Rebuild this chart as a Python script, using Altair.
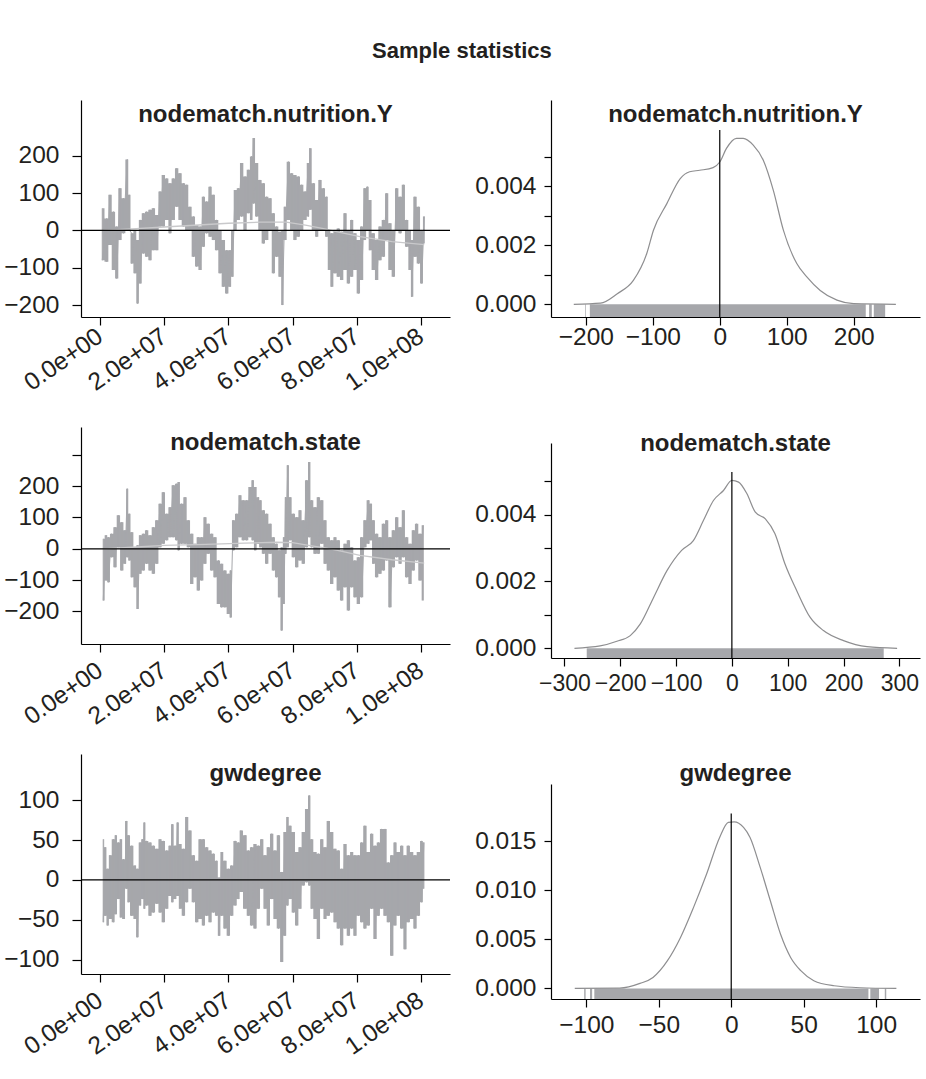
import altair as alt
import pandas as pd

# ---------------- data ----------------
# Trace panels: x in millions of iterations, hi / lo = envelope of the sampled statistic
p1_x = [0.7, 2.1, 3.1, 4.2, 5.2, 6.2, 7.3, 8.5, 9.1, 9.9, 10.9, 11.7, 12.5, 13.5, 14.5, 15.6, 16.6, 17.7, 18.7, 19.7,
        20.8, 21.8, 22.8, 23.9, 24.9, 26.0, 27.0, 28.0, 29.1, 30.1, 31.2, 32.2, 33.2, 34.3, 35.3, 36.3, 37.4, 38.4, 39.5, 40.5,
        41.2, 42.1, 43.1, 44.1, 45.2, 46.2, 47.2, 47.8, 48.8, 49.8,
        50.9, 51.9, 53.0, 54.0, 55.0, 56.1, 56.8, 57.6, 58.7, 59.7, 60.7, 61.8, 62.8, 63.9, 64.9, 65.4, 66.5, 67.5, 68.5, 69.6,
        70.6, 71.3, 72.2, 73.2, 74.2, 75.3, 76.3, 77.4, 78.4, 79.4, 80.5, 81.5, 82.5, 83.3, 84.1, 85.1, 86.2, 87.2, 88.3, 89.3,
        90.3, 91.4, 92.4, 93.5, 94.5, 95.5, 96.6, 97.1, 98.1, 99.2, 100.2, 101.0]
p1_hi = [59, 32, 95, 50, 10, 113, 86, 190, 95, -8, 1, -26, 28, 46, 50, 55, 59, 41, 104, 148,
         139, 126, 139, 166, 153, 126, 122, 63, 37, 14, 10, 90, 77, 117, 95, 28, 1, -26, -53, -53,
         1, 108, 113, 180, 144, 162, 198, 247, 180, 135,
         126, 90, 86, 46, 10, -4, 1, 63, 184, 153, 148, 144, 122, 104, 180, 220, 126, 81, 135, 113,
         90, 1, -8, 1, 5, -4, 46, 1, 28, -8, -26, 10, 113, 117, 81, -8, -26, 10, 28, 99,
         19, 1, 113, 90, 122, 28, 1, -26, 90, 63, 1, 37]
p1_lo = [-80, -84, -39, -106, -129, -26, -8, 1, 1, -89, -115, -196, -142, -62, -71, -80, -53, -53, 10, 10,
         28, -8, 28, 63, 28, 10, 1, 1, -71, -97, -106, -44, -8, -17, -26, -53, -115, -151, -169, -151,
         -124, 1, 28, 37, 1, 46, 28, 72, 37, 1,
         -35, -26, 1, -115, -71, -124, -200, -26, 28, 1, -26, -17, 1, 28, 37, 55, 1, -17, 1, 1,
         -17, -106, -151, -115, -124, -133, -106, -142, -124, -106, -169, -133, -26, 1, -53, -106, -133, -80, -71, -26,
         -106, -124, 1, -8, 1, -44, -106, -178, -71, -89, -142, -35]
p1_smooth_x = [1, 10, 20, 28, 40, 50, 58, 64, 70, 74, 81, 91, 101]
p1_smooth_y = [0, 4, 9, 13, 19, 22, 22, 14, 4, -4, -17, -30, -38]

p3_x = [1.0, 1.9, 2.6, 3.6, 4.7, 5.7, 6.8, 7.8, 8.5, 9.1, 9.9, 10.9, 11.7, 12.5, 13.5, 14.5, 15.6, 16.6, 17.7, 18.7,
        19.7, 20.8, 21.8, 22.8, 23.9, 24.4, 25.4, 26.5, 27.5, 28.6, 29.6, 30.6, 31.7, 32.7, 33.7, 34.8, 35.8, 36.9, 37.9, 38.9,
        40.0, 40.7, 41.5, 42.6, 43.6, 44.6, 45.7, 46.7, 47.6, 48.3, 49.3,
        49.9, 50.9, 51.9, 53.0, 54.0, 55.0, 55.8, 56.6, 57.3, 57.8, 58.5, 59.2, 60.2, 61.3, 62.3, 63.3, 64.4, 65.2, 65.9, 67.0,
        68.0, 69.1, 70.1, 71.1, 72.2, 73.2, 74.2, 75.3, 76.3, 77.4, 78.4, 79.4, 80.5, 81.5, 82.5, 83.6, 84.4, 85.1, 86.2, 87.2,
        88.3, 89.3, 90.3, 91.4, 92.4, 93.5, 94.5, 95.5, 96.6, 97.6, 98.6, 99.7, 100.7]
p3_hi = [32, 43, 37, 48, 69, 107, 85, 59, 192, 112, 53, 5, 11, 43, 48, 59, 43, 69, 91, 144,
         181, 112, 133, 203, 208, 213, 144, 165, 91, 48, 16, 37, 37, 101, 80, 48, 37, -37, -48, -69,
         -80, -69, 91, 112, 171, 155, 155, 197, 219, 197, 165,
         155, 123, 112, 80, 37, 16, -5, 5, 37, 165, 267, 165, 112, 101, 123, 91, 219, 277, 155, 133,
         165, 155, 91, 37, 27, 37, 27, -5, 16, 27, 5, -37, -27, 37, 91, 155, 144, 91, 48, 37,
         80, 91, 37, 59, 101, 69, 123, 37, 16, 59, 80, 48, 75]
p3_lo = [-165, -101, -107, -27, -59, 5, -69, -48, -27, -37, -91, -123, -192, -80, -69, -48, -69, -80, -48, 5,
         16, 27, 37, 37, 27, -5, 16, 16, 5, -112, -91, -133, -101, -48, -16, -69, -91, -176, -187, -187,
         -208, -219, -5, 5, 37, 27, 27, 37, 27, -5, 16,
         5, -16, -48, -16, -69, -91, -155, -261, -176, -16, 5, 27, -27, -59, -37, -48, 5, 37, 5, -16,
         -16, 16, -48, -69, -112, -91, -133, -165, -123, -197, -123, -155, -176, -155, 5, 16, 27, -48, -91, -80,
         -69, -37, -187, -59, -27, -48, -27, -91, -112, -69, -37, -101, -165]
p3_smooth_x = [1, 10, 20, 33, 45, 55, 60, 65, 70, 74, 81, 91, 101]
p3_smooth_y = [0, 5, 11, 14, 18, 21, 20, 11, 3, -5, -21, -35, -46]

p5_x = [1.0, 1.6, 2.4, 3.1, 4.2, 4.9, 5.7, 6.5, 7.3, 8.3, 8.8, 9.9, 10.9, 11.6, 12.5, 13.2, 13.8, 14.5, 15.6, 16.6,
        17.7, 18.7, 19.7, 20.8, 21.8, 22.5, 23.4, 24.2, 24.9, 26.0, 27.0, 28.0, 29.1, 30.1, 31.2, 32.2, 33.2, 34.3, 35.3, 36.3,
        37.1, 37.9, 38.9, 40.0, 41.0, 42.1, 43.1, 43.9, 45.2, 46.2, 47.2, 48.3, 49.3,
        50.4, 51.4, 52.4, 53.5, 54.5, 55.6, 56.6, 57.6, 58.4, 59.2, 60.2, 61.3, 62.3, 63.3, 64.4, 65.2, 65.9, 67.0, 68.0, 69.1,
        70.1, 71.1, 72.2, 73.2, 74.2, 75.3, 76.3, 77.4, 78.4, 79.4, 80.5, 81.5, 82.5, 83.6, 84.6, 85.7, 86.7, 87.7, 88.8, 89.8,
        90.9, 91.9, 92.9, 94.0, 95.0, 96.0, 97.1, 98.1, 99.2, 100.2, 100.9]
p5_hi = [51, 41, 14, 31, 51, 56, 47, 51, 26, 74, 56, 43, 18, 14, 47, 51, 72, 49, 47, 43,
         39, 51, 49, 37, 43, 70, 43, 72, 45, 39, 79, 62, 31, 24, 51, 51, 41, 37, 33, 24,
         3, 35, 24, 14, 18, 49, 47, 62, 56, 37, 41, 45, 43,
         51, 31, 41, 58, 37, 56, 10, 60, 79, 68, 60, 35, 41, 60, 89, 106, 51, 35, 33, 51,
         41, 74, 60, 39, 37, 14, 45, 31, 35, 31, 31, 47, 68, 35, 58, 43, 47, 64, 64, 22,
         31, 47, 35, 43, 31, 43, 35, 31, 35, 49, 47]
p5_lo = [-53, -45, -57, -49, -53, -43, -24, -47, -49, -11, -28, -45, -49, -72, -32, -24, -36, -32, -45, -41,
         -30, -41, -53, -36, -20, -28, -24, -20, -36, -45, -28, -11, -28, -53, -49, -57, -45, -53, -41, -45,
         -70, -45, -61, -70, -45, -32, -24, -15, -36, -45, -57, -61, -36,
         -11, -36, -57, -24, -49, -61, -103, -70, -32, -24, -41, -57, -36, -7, -3, -7, -36, -49, -74, -36,
         -49, -45, -41, -53, -61, -82, -61, -70, -61, -70, -45, -53, -61, -57, -36, -74, -45, -36, -45, -53,
         -95, -57, -45, -61, -87, -53, -49, -61, -45, -28, -11]

# Density panels
p2_x = [-218, -178, -153, -129, -109, -99, -79, -59, -45, -30, -10, 0, 10, 25, 35, 50, 65, 80, 95, 115, 130, 150, 175, 200, 263]
p2_y = [0, 0.00004, 0.00036, 0.00081, 0.00172, 0.00251, 0.00341, 0.00426, 0.00449, 0.00454, 0.00463, 0.00482, 0.00528,
        0.00562, 0.00562, 0.00539, 0.00488, 0.00386, 0.00251, 0.00138, 0.00093, 0.00047, 0.00014, 0.00002, 0]
p2_rug_start = [-201, -194, 223, 230]
p2_rug_end = [-200, 218, 227, 247]
p2_ref = [0, 0.0059]

p4_x = [-282, -236, -206, -182, -164, -140, -116, -90, -69, -51, -33, -15, 0, 12, 27, 42, 60, 77, 95, 116, 140, 164, 200, 242, 296]
p4_y = [0, 0.00007, 0.00021, 0.00038, 0.00073, 0.00153, 0.00233, 0.00293, 0.00322, 0.00382, 0.00442, 0.00472, 0.00502,
        0.00497, 0.00462, 0.00407, 0.00387, 0.00343, 0.00253, 0.00173, 0.00093, 0.00053, 0.00023, 0.00005, 0]
p4_rug_start = [-260]
p4_rug_end = [272]
p4_ref = [0, 0.00527]

p6_x = [-108, -77, -63, -54, -44, -35, -26, -17, -8, -2, 2, 8.5, 13, 20, 27, 34, 41, 48, 57, 71, 89, 114]
p6_y = [0, 0.00003, 0.00051, 0.00112, 0.00283, 0.0052, 0.00827, 0.01167, 0.01541, 0.01694, 0.017, 0.01643, 0.01541,
        0.01235, 0.00895, 0.00555, 0.00316, 0.00181, 0.00079, 0.00027, 0.00007, 0]
p6_rug_start = [-101.5, -97.5, -94.5, 96, 106]
p6_rug_end = [-100.5, -96, 94.7, 102, 107]
p6_ref = [0, 0.01786]

names = ["nodematch.nutrition.Y", "nodematch.state", "gwdegree"]
trace_ticks = [0, 2e7, 4e7, 6e7, 8e7, 1e8]

# ---------------- styling ----------------
FONT = "Liberation Sans"
INK = "#231f20"
GRAY = "#a6a7ab"
W = 369
LABEL_SIZE = 24.5


def ax(**kw):
    base = dict(domainColor="black", domainWidth=1.2, tickColor="black", tickWidth=1.2,
                labelColor=INK, labelFont=FONT, labelFontSize=LABEL_SIZE, grid=False, title=None,
                labelOverlap=False, labelFlush=False, labelBound=False)
    base.update(kw)
    return alt.Axis(**base)


def title_layer(name, ty):
    return alt.Chart(pd.DataFrame({"t": [name]})).mark_text(
        font=FONT, fontSize=24, fontWeight="bold", color=INK, baseline="alphabetic", align="center"
    ).encode(text="t:N", x=alt.value(W / 2), y=alt.value(ty))


def trace_panel(xs, hi, lo, sx, sy, name, ydom, yvals, ylab, h, ty, xpad):
    df = pd.DataFrame({"x": [v * 1e6 for v in xs], "hi": hi, "lo": lo})
    # zig-zag path through the same readings (hi then lo at each reading)
    zz_x, zz_y, zz_o = [], [], []
    for i, (xv, a, b) in enumerate(zip(xs, hi, lo)):
        zz_x += [xv * 1e6, xv * 1e6]
        zz_y += [a, b]
        zz_o += [2 * i, 2 * i + 1]
    zz = pd.DataFrame({"x": zz_x, "y": zz_y, "o": zz_o})
    xsc = alt.Scale(domain=[-5.92e6, 1.0903e8], nice=False, zero=False)
    ysc = alt.Scale(domain=ydom, nice=False, zero=False)
    xax = ax(values=trace_ticks,
             labelExpr="datum.value == 0 ? '0.0e+00' : (datum.value >= 1e8 ? '1.0e+08' : format(datum.value / 1e7, '.1f') + 'e+07')",
             labelAngle=-35, labelAlign="right", labelBaseline="middle", tickSize=8, labelPadding=xpad)
    yax = ax(values=yvals, labelExpr=ylab, tickSize=9, labelPadding=13)
    layers = [
        alt.Chart(df).mark_area(interpolate="step", color=GRAY).encode(
            x=alt.X("x:Q", scale=xsc, axis=xax), y=alt.Y("hi:Q", scale=ysc, axis=yax), y2="lo:Q"),
        alt.Chart(zz).mark_line(color=GRAY, strokeWidth=1).encode(
            x=alt.X("x:Q", scale=xsc), y=alt.Y("y:Q", scale=ysc), order="o:Q"),
    ]
    if sx:
        sdf = pd.DataFrame({"x": [v * 1e6 for v in sx], "y": sy})
        layers.append(alt.Chart(sdf).mark_line(color="#c9c9cb", strokeWidth=1.3).encode(
            x=alt.X("x:Q", scale=xsc), y=alt.Y("y:Q", scale=ysc)))
    layers.append(alt.Chart(pd.DataFrame({"z": [0]})).mark_rule(color="black", strokeWidth=1.2).encode(
        y=alt.Y("z:Q", scale=ysc)))
    layers.append(title_layer(name, ty))
    return alt.layer(*layers).properties(width=W, height=h)


def dens_panel(dx, dy, rs, re, ref, name, xdom, ydom, xvals, yvals, ylab, h, ty, xpad, xsize):
    xsc = alt.Scale(domain=xdom, nice=False, zero=False)
    ysc = alt.Scale(domain=ydom, nice=False, zero=False)
    xax = ax(values=xvals, tickSize=8, labelPadding=xpad, labelFontSize=xsize)
    yax = ax(values=yvals, format=".3f", labelExpr=ylab, tickSize=7, labelPadding=8)
    rug = alt.Chart(pd.DataFrame({"a": rs, "b": re})).mark_rect(color=GRAY).encode(
        x=alt.X("a:Q", scale=xsc, axis=xax), x2="b:Q",
        y=alt.Y(datum=0, scale=ysc, axis=yax), y2=alt.Y2(datum=ydom[0]))
    line = alt.Chart(pd.DataFrame({"x": dx, "y": dy})).mark_line(
        color="#8e8e90", strokeWidth=1.2, interpolate="monotone").encode(
        x=alt.X("x:Q", scale=xsc), y=alt.Y("y:Q", scale=ysc))
    rule = alt.Chart(pd.DataFrame({"x": [ref[0]], "top": [ref[1]], "bot": [ydom[0]]})).mark_rule(
        color="black", strokeWidth=1.2).encode(
        x=alt.X("x:Q", scale=xsc), y=alt.Y("top:Q", scale=ysc), y2="bot:Q")
    return alt.layer(rug, line, rule, title_layer(name, ty)).properties(width=W, height=h)


odd_hidden = "(round(datum.value * 1000) % 2 == 0) ? datum.label : ''"

p1 = trace_panel(p1_x, p1_hi, p1_lo, p1_smooth_x, p1_smooth_y, names[0], [-232, 349],
                 [-200, -100, 0, 100, 200], "datum.label", 217, 22, 9)
p3 = trace_panel(p3_x, p3_hi, p3_lo, p3_smooth_x, p3_smooth_y, names[1], [-304, 389],
                 [-200, -100, 0, 100, 200, 300], "datum.value > 250 ? '' : datum.label", 217, 23, 16)
p5 = trace_panel(p5_x, p5_hi, p5_lo, None, None, names[2], [-118, 158],
                 [-100, -50, 0, 50, 100], "datum.label", 220, 27, 16)

p2 = dens_panel(p2_x, p2_y, p2_rug_start, p2_rug_end, p2_ref, names[0], [-252, 299], [-0.00043, 0.00692],
                [-200, -100, 0, 100, 200], [0, 0.001, 0.002, 0.003, 0.004, 0.005], odd_hidden, 217, 22, 0, LABEL_SIZE)
p4 = dens_panel(p4_x, p4_y, p4_rug_start, p4_rug_end, p4_ref, names[1], [-324, 337], [-0.00029, 0.00614],
                [-300, -200, -100, 0, 100, 200, 300], [0, 0.001, 0.002, 0.003, 0.004, 0.005], odd_hidden, 215, 8, 6, 23)
p6 = dens_panel(p6_x, p6_y, p6_rug_start, p6_rug_end, p6_ref, names[2], [-124.4, 130.3], [-0.00108, 0.02086],
                [-100, -50, 0, 50, 100], [0, 0.005, 0.010, 0.015], "datum.label", 215, -3, 6, LABEL_SIZE)

left = alt.vconcat(p1, p3, p5, spacing=110, bounds="flush")
right = alt.vconcat(p2, p4, p6, spacing=126, bounds="flush")

chart = alt.hconcat(left, right, spacing=23).properties(
    title=alt.TitleParams("Sample statistics", font=FONT, fontSize=22, fontWeight="bold", color=INK,
                          anchor="middle", offset=37),
    padding={"left": 3, "top": 40, "right": 5, "bottom": 5},
).configure_view(stroke=None)

chart.save("out.html", embed_options={"renderer": "svg", "actions": False})
